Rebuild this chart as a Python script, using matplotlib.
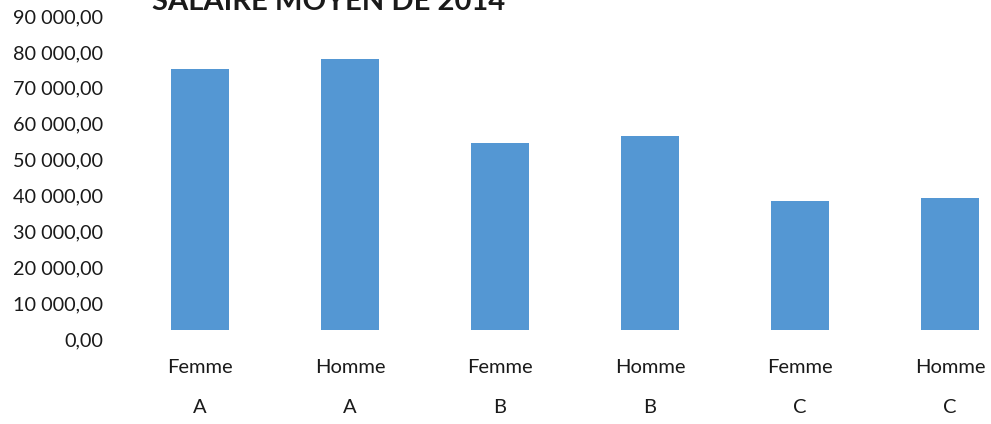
import matplotlib
matplotlib.use("Agg")
import matplotlib.pyplot as plt
from matplotlib.ticker import FuncFormatter
from matplotlib.transforms import ScaledTranslation

# Average salary by category and sex
sexes = ["Femme", "Homme", "Femme", "Homme", "Femme", "Homme"]
categories = ["A", "A", "B", "B", "C", "C"]
salaries = [72700, 75500, 52100, 54000, 35900, 36800]
y_ticks = [0, 10000, 20000, 30000, 40000, 50000, 60000, 70000, 80000, 90000]
title = "SALAIRE MOYEN DE 2014"

FONT = "Lato"
BAR_COLOR = "#5497d3"
TEXT_COLOR = "#1a1a1a"

W, H = 991, 424
fig = plt.figure(figsize=(W / 100, H / 100), dpi=100)
fig.patch.set_facecolor("white")

# axes: zero line near y=330 px, 90 000 near y=7 px, first category edge at x=125 px
left, right = 125 / W, 1.0
bottom, top = (H - 330) / H, (H - 7) / H
ax = fig.add_axes([left, bottom, right - left, top - bottom])

x = list(range(len(salaries)))
ax.bar(x, salaries, width=0.39, color=BAR_COLOR, edgecolor="none")

ax.set_xlim(-0.5, (W - 125) / 150 - 0.5)
ax.set_ylim(0, 90000)

def fr_format(v, _pos):
    s = f"{v:,.2f}"
    return s.replace(",", " ").replace(".", ",")

ax.set_yticks(y_ticks)
ax.yaxis.set_major_formatter(FuncFormatter(fr_format))
ax.tick_params(axis="y", length=0, pad=16, labelsize=14.3, labelcolor=TEXT_COLOR)
shift = ScaledTranslation(0, -9 / 100, fig.dpi_scale_trans)
for lab in ax.get_yticklabels():
    lab.set_fontfamily(FONT)
    lab.set_transform(lab.get_transform() + shift)

ax.set_xticks(x)
ax.set_xticklabels(sexes, fontfamily=FONT, fontsize=14.5, color=TEXT_COLOR)
ax.tick_params(axis="x", length=0, pad=21)

# second level of the category axis
for xi, c in zip(x, categories):
    ax.annotate(c, xy=(xi, 0), xycoords=("data", "axes fraction"),
                xytext=(0, -56), textcoords="offset points",
                ha="center", va="center", fontfamily=FONT, fontsize=14.5,
                color=TEXT_COLOR)

for sp in ax.spines.values():
    sp.set_visible(False)
ax.set_facecolor("white")

fig.text(152 / W, (H - 10) / H, title, ha="left", va="baseline",
         fontfamily=FONT, fontweight="bold", fontsize=21, color=TEXT_COLOR)

fig.savefig("out.png", dpi=100, facecolor="white")
